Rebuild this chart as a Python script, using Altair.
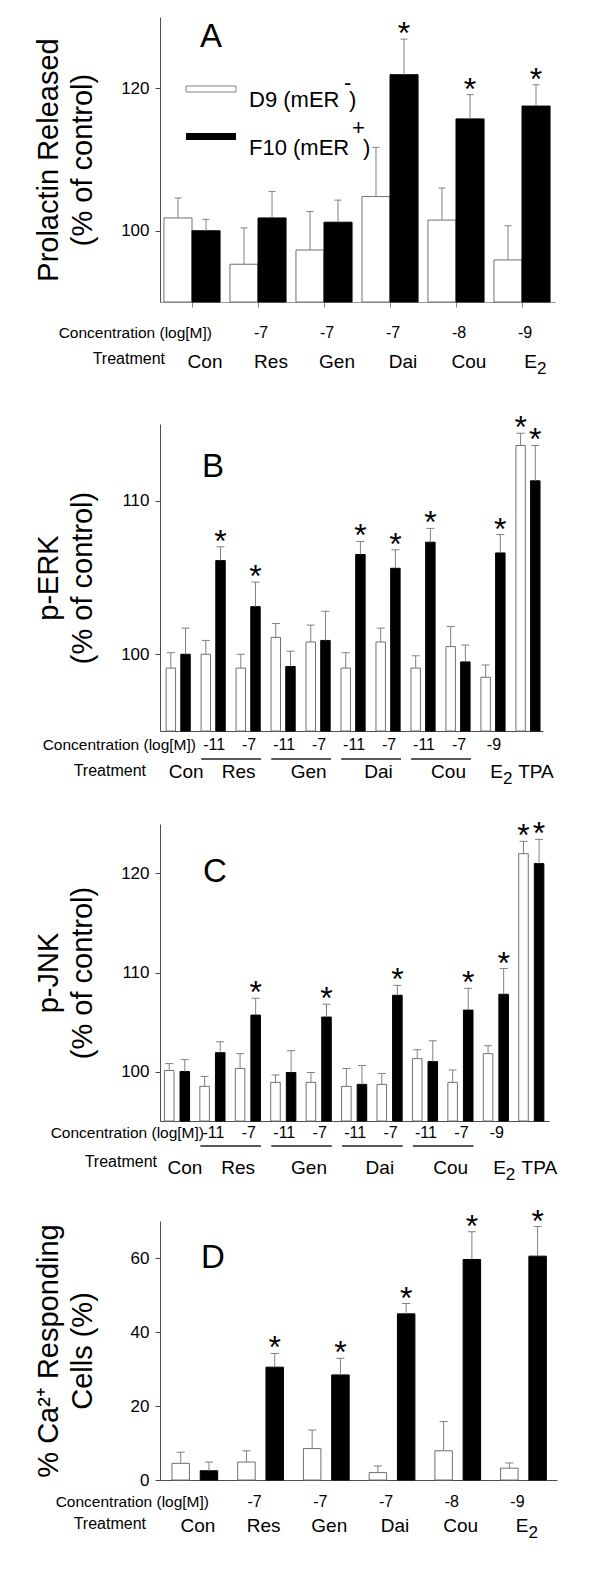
import altair as alt
import pandas as pd

FONT = 'Liberation Sans'
GREY = '#808080'
DARK = '#4d4d4d'

# Panel A - prolactin released (% of control)
a_treat = ['Con', 'Res', 'Gen', 'Dai', 'Cou', 'E2']
a_treat_groups = [[0], [1], [2], [3], [4], [5]]
a_conc = ['', '-7', '-7', '-7', '-8', '-9']
a_d9 = [101.8, 95.3, 97.3, 104.8, 101.5, 95.9]
a_d9_err = [2.8, 5.1, 5.4, 6.9, 4.5, 4.8]
a_d9_sig = [0, 0, 0, 0, 0, 0]
a_f10 = [100.0, 101.8, 101.2, 121.9, 115.7, 117.5]
a_f10_err = [1.6, 3.7, 3.1, 5.0, 3.4, 3.0]
a_f10_sig = [0, 0, 0, 1, 1, 1]

# Panels B and C share the treatment layout
bc_treat = ['Con', 'Res', 'Gen', 'Dai', 'Cou', 'E2', 'TPA']
bc_treat_groups = [[0], [1, 2], [3, 4], [5, 6], [7, 8], [9], [10]]
bc_conc = ['', '-11', '-7', '-11', '-7', '-11', '-7', '-11', '-7', '-9', '']

# Panel B - p-ERK (% of control)
b_d9 = [99.1, 100.0, 99.1, 101.1, 100.8, 99.1, 100.8, 99.1, 100.5, 98.5, 113.6]
b_d9_err = [1.0, 0.9, 0.9, 0.9, 1.1, 1.0, 0.9, 0.8, 1.3, 0.8, 0.8]
b_d9_sig = [0, 0, 0, 0, 0, 0, 0, 0, 0, 0, 1]
b_f10 = [100.0, 106.1, 103.1, 99.2, 100.9, 106.5, 105.6, 107.3, 99.5, 106.6, 111.3]
b_f10_err = [1.7, 0.9, 1.6, 1.0, 1.9, 0.85, 1.2, 0.9, 1.1, 1.2, 2.3]
b_f10_sig = [0, 1, 1, 0, 0, 1, 1, 1, 0, 1, 1]

# Panel C - p-JNK (% of control)
c_d9 = [100.1, 98.5, 100.3, 98.9, 98.9, 98.5, 98.7, 101.3, 98.9, 101.8, 122.0]
c_d9_err = [0.7, 1.0, 1.5, 0.75, 1.0, 1.8, 1.1, 0.9, 1.25, 0.8, 1.25]
c_d9_sig = [0, 0, 0, 0, 0, 0, 0, 0, 0, 0, 1]
c_f10 = [100.0, 101.9, 105.7, 99.9, 105.5, 98.7, 107.7, 101.0, 106.2, 107.8, 121.0]
c_f10_err = [1.2, 1.1, 1.7, 2.2, 1.3, 1.9, 1.0, 2.1, 2.2, 2.6, 2.45]
c_f10_sig = [0, 0, 1, 0, 1, 0, 1, 0, 1, 1, 1]

# Panel D - % Ca2+ responding cells
d_treat = ['Con', 'Res', 'Gen', 'Dai', 'Cou', 'E2']
d_treat_groups = [[0], [1], [2], [3], [4], [5]]
d_conc = ['', '-7', '-7', '-7', '-8', '-9']
d_d9 = [4.5, 4.85, 8.5, 2.0, 7.9, 3.2]
d_d9_err = [3.0, 3.05, 5.0, 1.8, 7.9, 1.4]
d_d9_sig = [0, 0, 0, 0, 0, 0]
d_f10 = [2.5, 30.5, 28.4, 44.9, 59.6, 60.5]
d_f10_err = [2.35, 3.7, 4.5, 2.8, 7.5, 8.0]
d_f10_sig = [0, 1, 1, 1, 1, 1]


def bar_table(d9, d9_err, d9_sig, f10, f10_err, f10_sig, off, half, cap):
    rows = []
    for i in range(len(d9)):
        for series, v, e, s, o in (('D9', d9[i], d9_err[i], d9_sig[i], -off),
                                   ('F10', f10[i], f10_err[i], f10_sig[i], off)):
            xc = i + o
            rows.append({'series': series, 'xc': xc, 'x1': xc - half, 'x2': xc + half,
                         'cl': xc - cap, 'cr': xc + cap, 'value': v, 'top': v + e, 'sig': s})
    return pd.DataFrame(rows)


def text_at(text, x, y, size, align='left', baseline='alphabetic'):
    return alt.Chart(pd.DataFrame({'k': [0]})).mark_text(
        text=text, fontSize=size, align=align, baseline=baseline, color='black'
    ).encode(x=alt.value(x), y=alt.value(y))


def spacer(y):
    # invisible rule that fixes how far a panel reaches above / below its plot
    return alt.Chart(pd.DataFrame({'k': [0]})).mark_rule(opacity=0).encode(
        x=alt.value(0), x2=alt.value(10), y=alt.value(y))


def panel(df, xdom, ydom, yticks, width, height, ytitle, letter, letter_xy,
          conc, treat, treat_groups, rows, xticks=False, extra=(), reach=(None, None)):
    xs = alt.Scale(domain=xdom, nice=False, zero=False)
    ys = alt.Scale(domain=ydom, nice=False, zero=False)
    n = len(conc)
    xaxis = alt.Axis(title=None, labels=False, grid=False, ticks=xticks,
                     values=list(range(n)), tickSize=5, tickColor=GREY,
                     domainColor=DARK if not xticks else '#999999')
    yaxis = alt.Axis(title=ytitle, values=yticks, grid=False, tickSize=5,
                     tickColor=DARK, domainColor=DARK, labelFontSize=17,
                     labelPadding=6, labelColor='black', titleFontSize=29,
                     titleFontWeight='normal', titleAngle=270, titleAlign='center',
                     titleBaseline='alphabetic', titleX=-103, titleY=height / 2,
                     titleLineHeight=34, titleColor='black')

    def X(field):
        return alt.X(field, scale=xs, axis=xaxis)

    def Y(field):
        return alt.Y(field, scale=ys, axis=yaxis)

    base = alt.Chart(df)
    bars = base.mark_bar(strokeWidth=1).encode(
        x=X('x1:Q'),
        x2='x2:Q',
        y=Y('value:Q'),
        y2=alt.datum(ydom[0]),
        color=alt.Color('series:N', scale=alt.Scale(domain=['D9', 'F10'], range=['white', 'black']), legend=None),
        stroke=alt.Stroke('series:N', scale=alt.Scale(domain=['D9', 'F10'], range=['#707070', 'black']), legend=None),
    )
    errs = base.mark_rule(color=GREY, strokeWidth=1).encode(
        x=X('xc:Q'), y=Y('value:Q'), y2='top:Q')
    caps = base.mark_rule(color=GREY, strokeWidth=1).encode(
        x=X('cl:Q'), x2='cr:Q', y=Y('top:Q'))
    stars = base.transform_filter('datum.sig == 1').mark_text(
        text='*', fontSize=32, baseline='alphabetic', dy=5, color='black'
    ).encode(x=X('xc:Q'), y=Y('top:Q'))

    # concentration row
    conc_df = pd.DataFrame({'pos': list(range(n)), 'label': conc})
    conc_text = alt.Chart(conc_df).transform_filter('datum.label != ""').mark_text(
        fontSize=16, baseline='middle', dx=rows['conc_dx'], color='black'
    ).encode(x=X('pos:Q'), y=alt.value(height + rows['conc']), text='label:N')

    # treatment row (E2 drawn with a subscript)
    tpos = [sum(g) / len(g) for g in treat_groups]
    main = [t[:-1] if t == 'E2' else t for t in treat]
    sub = ['2' if t == 'E2' else '' for t in treat]
    treat_df = pd.DataFrame({'pos': tpos, 'main': main, 'sub': sub})
    ty = height + rows['treat']
    treat_plain = alt.Chart(treat_df).transform_filter('datum.sub == ""').mark_text(
        fontSize=19, baseline='middle', dx=rows['treat_dx'], color='black'
    ).encode(x=X('pos:Q'), y=alt.value(ty), text='main:N')
    treat_main = alt.Chart(treat_df).transform_filter('datum.sub != ""').mark_text(
        fontSize=19, baseline='middle', align='right', dx=rows['treat_dx'] + 2, color='black'
    ).encode(x=X('pos:Q'), y=alt.value(ty), text='main:N')
    treat_sub = alt.Chart(treat_df).transform_filter('datum.sub != ""').mark_text(
        fontSize=17, baseline='middle', align='left', dx=rows['treat_dx'] + 2, color='black'
    ).encode(x=X('pos:Q'), y=alt.value(ty + 7), text='sub:N')

    layers = [bars, errs, caps, stars, conc_text, treat_plain, treat_main, treat_sub,
              text_at('Concentration (log[M])', rows['conc_label_x'], height + rows['conc'], 15.5,
                      align='right', baseline='middle'),
              text_at('Treatment', rows['treat_label_x'], height + rows['treat_label'], 16,
                      align='right', baseline='middle'),
              text_at(letter, letter_xy[0], letter_xy[1], 33)]

    pairs = [g for g in treat_groups if len(g) == 2]
    if pairs:
        ul_df = pd.DataFrame({'start': [g[0] - 0.34 for g in pairs],
                              'end': [g[1] + 0.37 for g in pairs]})
        layers.append(alt.Chart(ul_df).mark_rule(color='#222222', strokeWidth=1.5).encode(
            x=X('start:Q'), x2='end:Q', y=alt.value(height + rows['underline'])))
    layers.extend(extra)
    if reach[0] is not None:
        layers.append(spacer(-reach[0]))
    if reach[1] is not None:
        layers.append(spacer(height + reach[1]))
    return alt.layer(*layers).properties(width=width, height=height)


# legend drawn inside panel A
rect_df = pd.DataFrame({'k': [0]})
legend_a = [
    alt.Chart(rect_df).mark_rect(fill='white', stroke=GREY, strokeWidth=1).encode(
        x=alt.value(26), x2=alt.value(76), y=alt.value(69), y2=alt.value(75)),
    alt.Chart(rect_df).mark_rect(fill='black').encode(
        x=alt.value(26), x2=alt.value(76), y=alt.value(116), y2=alt.value(123)),
    text_at('D9 (mER', 89, 90, 22),
    text_at('-', 184, 73, 22),
    text_at(')', 189, 90, 22),
    text_at('F10 (mER', 89, 138, 22),
    text_at('+', 192, 118, 22),
    text_at(')', 203, 138, 22),
]

chart_a = panel(
    bar_table(a_d9, a_d9_err, a_d9_sig, a_f10, a_f10_err, a_f10_sig, 0.2125, 0.2125, 0.053),
    [-0.485, 5.5], [90, 130], [100, 120], 395, 285,
    ['Prolactin Released', '(% of control)'], 'A', (40, 30),
    a_conc, a_treat, a_treat_groups,
    {'conc': 31, 'conc_dx': 3, 'treat': 60, 'treat_dx': 13, 'treat_label': 57,
     'conc_label_x': 52, 'treat_label_x': 5, 'underline': 0},
    xticks=True, extra=legend_a, reach=(None, 85))

chart_b = panel(
    bar_table(b_d9, b_d9_err, b_d9_sig, b_f10, b_f10_err, b_f10_sig, 0.21, 0.135, 0.114),
    [-0.52, 10.43], [95, 115], [100, 110], 383, 307,
    ['p-ERK', '(% of control)'], 'B', (42, 53),
    bc_conc, bc_treat, bc_treat_groups,
    {'conc': 14, 'conc_dx': 1, 'treat': 41, 'treat_dx': 8, 'treat_label': 40,
     'conc_label_x': 36, 'treat_label_x': -14, 'underline': 28},
    reach=(37, 70))

chart_c = panel(
    bar_table(c_d9, c_d9_err, c_d9_sig, c_f10, c_f10_err, c_f10_sig, 0.22, 0.135, 0.113),
    [-0.48, 10.5], [95, 125], [100, 110, 120], 389, 297,
    ['p-JNK', '(% of control)'], 'C', (43, 58),
    bc_conc, bc_treat, bc_treat_groups,
    {'conc': 12, 'conc_dx': 1, 'treat': 47, 'treat_dx': 8, 'treat_label': 41,
     'conc_label_x': 44, 'treat_label_x': -3, 'underline': 25},
    reach=(23, 75))

chart_d = panel(
    bar_table(d_d9, d_d9_err, d_d9_sig, d_f10, d_f10_err, d_f10_sig, 0.215, 0.133, 0.061),
    [-0.53, 5.51], [0, 70], [0, 20, 40, 60], 397, 259,
    ['% Ca\u00b2\u207a Responding', 'Cells (%)'], 'D', (41, 47),
    d_conc, d_treat, d_treat_groups,
    {'conc': 22, 'conc_dx': -6, 'treat': 46, 'treat_dx': 3, 'treat_label': 44,
     'conc_label_x': 49, 'treat_label_x': -14, 'underline': 0},
    reach=(25, None))

chart = alt.vconcat(chart_a, chart_b, chart_c, chart_d, spacing=0).properties(
    padding={'left': 26, 'top': 9, 'right': 5, 'bottom': 5}
).configure_view(
    strokeWidth=0
).configure_axis(
    labelFont=FONT, titleFont=FONT
).configure_text(
    font=FONT
)

chart.save('out.html', embed_options={'renderer': 'svg', 'actions': False})
